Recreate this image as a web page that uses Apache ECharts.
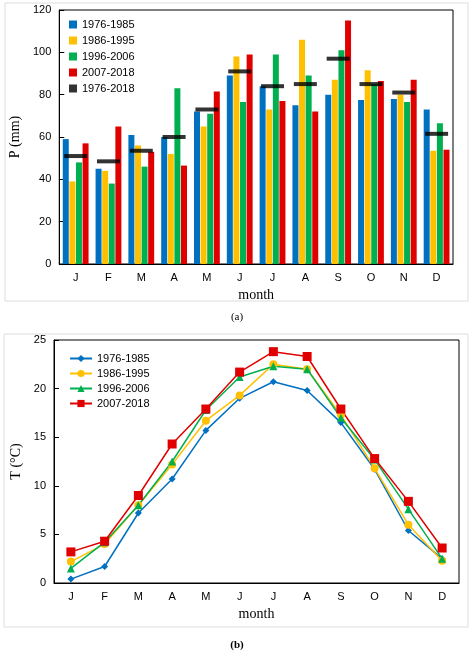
<!DOCTYPE html><html><head><meta charset="utf-8"><script src="https://cdn.jsdelivr.net/npm/echarts@6/dist/echarts.min.js"></script>
<style>html,body{margin:0;padding:0;background:#fff}#c{width:474px;height:657px}</style></head><body><div id="c"></div><script>
const months=['J','F','M','A','M','J','J','A','S','O','N','D'];
const periods=['1976-1985','1986-1995','1996-2006','2007-2018'];
const colors=['#0070C0','#FFC000','#00B050','#E00000'];
const P1=[59,45,61,60,72,89,84,75,80,77.5,78,73];
const P2=[39,44,56,52,65,98,73,106,87,91.5,80,53.5];
const P3=[48,38,46,83,71,76.5,99,89,101,85,76.5,66.5];
const P4=[57,65,53,46.5,81.5,99,77,72,115,86.5,87,54];
const Pavg=[51,48.5,53.5,60,73,91,84,85,97,85,81,61.5];
const T1=[0.4,1.7,7.2,10.7,15.7,19.0,20.7,19.8,16.5,11.7,5.4,2.5];
const T2=[2.2,4.0,8.0,12.2,16.7,19.3,22.5,22.0,17.3,11.8,6.0,2.3];
const T3=[1.5,4.2,8.0,12.5,17.8,21.2,22.3,22.0,17.0,12.7,7.6,2.5];
const T4=[3.2,4.3,9.0,14.3,17.9,21.7,23.8,23.3,17.9,12.8,8.4,3.6];
const P=[P1,P2,P3,P4],T=[T1,T2,T3,T4],syms=['diamond','circle','triangle','rect'];
const ch=echarts.init(document.getElementById('c'));
const ax={color:'#000',fontFamily:'Liberation Sans',fontSize:11};
const nameSt={fontFamily:'Liberation Serif',fontSize:14,color:'#000'};
const series=[];
P.forEach((d,i)=>series.push({name:periods[i],type:'bar',xAxisIndex:0,yAxisIndex:0,data:d,barWidth:6,barGap:'10%',itemStyle:{color:colors[i]}}));
series.push({name:'1976-2018',type:'scatter',xAxisIndex:0,yAxisIndex:0,data:Pavg,symbol:'rect',symbolSize:[23,4],itemStyle:{color:'#000'},z:5});
T.forEach((d,i)=>series.push({name:periods[i]+' ',type:'line',xAxisIndex:1,yAxisIndex:1,data:d,symbol:syms[i],symbolSize:i==3?9:(i==0?7:8),lineStyle:{color:colors[i],width:1.5},itemStyle:{color:colors[i]}}));
ch.setOption({animation:false,
graphic:[{type:'rect',shape:{x:5,y:3,width:463,height:298},style:{fill:'none',stroke:'#ddd'}},
{type:'rect',shape:{x:4,y:334,width:464,height:293},style:{fill:'none',stroke:'#ddd'}},
{type:'text',left:'center',top:312,style:{text:'(a)',font:'11px Liberation Serif',fill:'#000'}},
{type:'text',left:'center',top:640,style:{text:'(b)',font:'bold 11px Liberation Serif',fill:'#000'}}],
legend:[{left:64,top:14,orient:'vertical',itemGap:5,itemWidth:8,itemHeight:8,textStyle:ax,data:periods.map(n=>({name:n,icon:'rect'})).concat([{name:'1976-2018',icon:'rect',itemStyle:{color:'#000'}}])},
{left:64,top:348,orient:'vertical',itemGap:4,itemWidth:22,itemHeight:9,textStyle:ax,data:periods.map(n=>n+' ')}],
grid:[{left:58,right:21,top:10,height:254,show:true,borderColor:'#000',borderWidth:1},{left:54,right:15,top:340,height:243,show:true,borderColor:'#000',borderWidth:1}],
xAxis:[{type:'category',gridIndex:0,data:months,axisLabel:ax,axisTick:{show:false},axisLine:{lineStyle:{color:'#000'}},name:'month',nameLocation:'middle',nameGap:24,nameTextStyle:nameSt},
{type:'category',gridIndex:1,data:months,axisLabel:ax,axisTick:{show:false},axisLine:{lineStyle:{color:'#000'}},name:'month',nameLocation:'middle',nameGap:24,nameTextStyle:nameSt}],
yAxis:[{type:'value',gridIndex:0,min:0,max:120,interval:20,axisLabel:ax,splitLine:{show:false},axisLine:{show:true,lineStyle:{color:'#000'}},axisTick:{show:true,inside:true},name:'P (mm)',nameLocation:'middle',nameGap:30,nameTextStyle:nameSt},
{type:'value',gridIndex:1,min:0,max:25,interval:5,axisLabel:ax,splitLine:{show:false},axisLine:{show:true,lineStyle:{color:'#000'}},axisTick:{show:true,inside:true},name:'T (°C)',nameLocation:'middle',nameGap:28,nameTextStyle:nameSt}],
series});
</script></body></html>
